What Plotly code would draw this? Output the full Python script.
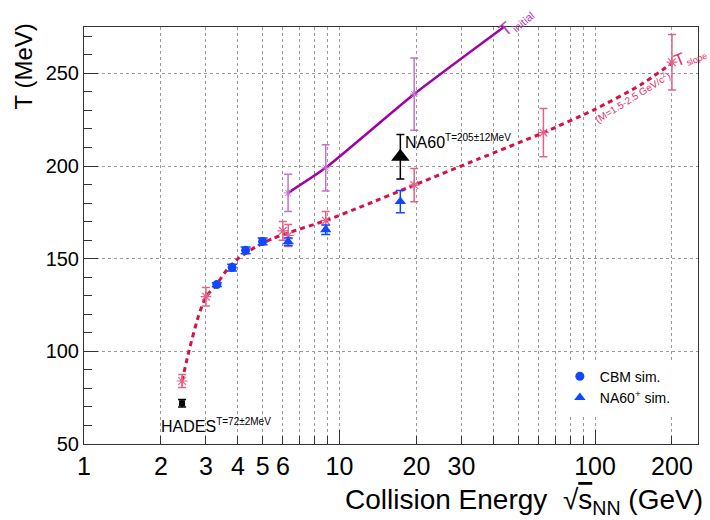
import plotly.graph_objects as go

# ---------------- data ----------------
# T_slope (dileptons, M=1.5-2.5 GeV/c^2) points
slope_E = [2.42, 3.0, 6.0, 6.3, 8.83, 19.6, 62.8, 200]
slope_T = [84, 129.5, 165, 162.5, 170.5, 189.7, 218, 256]
slope_err = [3.5, 5, 5, 6, 5, 9, 13, 15]

# T_slope fitted curve
fit_E = [2.42, 2.58, 2.8, 3.0, 3.3, 3.62, 4.02, 4.67, 5.51, 6.48, 8.8, 12.4,
         19.6, 35, 62.8, 98.6, 150, 201]
fit_T = [84, 100.7, 118.7, 129.4, 136, 143.9, 150.2, 156.1, 161, 164.5, 170.5,
         178.5, 189.7, 203.8, 218, 230.2, 243.6, 255.7]

# T_initial points and curve
init_E = [6.29, 8.83, 19.6]
init_T = [185.5, 199, 238.8]
init_err = [10, 12.5, 19.5]
initline_E = [6.29, 8.83, 19.6, 44.5]
initline_T = [185.5, 199, 238.8, 275.5]

# CBM simulation
cbm_E = [3.31, 3.8, 4.29, 5.0]
cbm_T = [136, 145.2, 154.5, 159.3]
cbm_err = [1.0, 1.8, 1.8, 1.8]

# NA60+ simulation
na60p_E = [6.3, 8.83, 17.3]
na60p_T = [159.1, 165.6, 180.8]
na60p_err = [2.0, 2.5, 6.0]

# measurements
na60_E = [17.3]
na60_T = [205]
na60_err = [12]
hades_E = [2.42]
hades_T = [72]
hades_err = [2]

x_tickvals = [1, 2, 3, 4, 5, 6, 10, 20, 30, 100, 200]
x_ticktext = ["1", "2", "3", "4", "5", "6", "10", "20", "30", "100", "200"]
x_minorvals = [7, 8, 9, 40, 50, 60, 70, 80, 90]
x_longticks = [10, 100]
y_tickvals = [50, 100, 150, 200, 250]

# ---------------- style ----------------
FONT = "Liberation Sans, Arial, Helvetica, sans-serif"
CRIMSON = "#d81048"
PINK = "#e0648a"
PURPLE = "#a000a8"
LILAC = "#c672c8"
BLUE = "#1048ff"
FRAME = "#333333"
GRID = "#9a9a9a"

fig = go.Figure()

# T_slope fit curve (dotted)
fig.add_trace(go.Scatter(x=fit_E, y=fit_T, mode="lines", showlegend=False,
                         line=dict(color=CRIMSON, width=3, dash="5px,4px", shape="spline", smoothing=0.6),
                         hoverinfo="skip"))
# T_slope points
fig.add_trace(go.Scatter(x=slope_E, y=slope_T, mode="markers", showlegend=False,
                         marker=dict(symbol="asterisk-open", size=9, color=PINK,
                                     line=dict(color=PINK, width=1.2)),
                         error_y=dict(type="data", array=slope_err, color=PINK, thickness=1.5, width=4)))
# T_initial curve
fig.add_trace(go.Scatter(x=initline_E, y=initline_T, mode="lines", showlegend=False,
                         line=dict(color=PURPLE, width=2.5, shape="spline", smoothing=0.5),
                         hoverinfo="skip"))
# T_initial points
fig.add_trace(go.Scatter(x=init_E, y=init_T, mode="markers", showlegend=False,
                         marker=dict(symbol="asterisk-open", size=7, color=LILAC,
                                     line=dict(color=LILAC, width=1)),
                         error_y=dict(type="data", array=init_err, color=LILAC, thickness=1.5, width=4)))
# CBM sim
fig.add_trace(go.Scatter(x=cbm_E, y=cbm_T, mode="markers", name="CBM sim.",
                         marker=dict(symbol="circle", size=9, color=BLUE),
                         error_y=dict(type="data", array=cbm_err, color=BLUE, thickness=1.5, width=5)))
# NA60+ sim
fig.add_trace(go.Scatter(x=na60p_E, y=na60p_T, mode="markers", name="NA60<sup>+</sup> sim.",
                         marker=dict(symbol="triangle-up", size=10, color=BLUE),
                         error_y=dict(type="data", array=na60p_err, color=BLUE, thickness=1.5, width=4.5)))
# NA60 measurement
fig.add_trace(go.Scatter(x=na60_E, y=na60_T, mode="markers", showlegend=False,
                         marker=dict(symbol="triangle-up", size=16, color="black"),
                         error_y=dict(type="data", array=na60_err, color="black", thickness=1.5, width=4)))
# HADES measurement
fig.add_trace(go.Scatter(x=hades_E, y=hades_T, mode="markers", showlegend=False,
                         marker=dict(symbol="square", size=6, color="black"),
                         error_y=dict(type="data", array=hades_err, color="black", thickness=1.5, width=4)))
# empty trace carrying the long-tick overlay axis
fig.add_trace(go.Scatter(x=[], y=[], xaxis="x2", showlegend=False, hoverinfo="skip"))

XRANGE = [0, 2.403]
fig.update_layout(
    width=710, height=520,
    margin=dict(l=84, r=12, t=27, b=76),
    paper_bgcolor="white", plot_bgcolor="white",
    font=dict(family=FONT, color="black"),
    xaxis=dict(type="log", range=XRANGE, tickmode="array", tickvals=x_tickvals, ticktext=x_ticktext,
               ticks="inside", ticklen=8, tickcolor=FRAME, tickfont=dict(size=25, family=FONT),
               showline=True, linecolor=FRAME, linewidth=1, mirror=True,
               showgrid=True, gridcolor=GRID, griddash="dot", gridwidth=1, zeroline=False,
               minor=dict(tickmode="array", tickvals=x_minorvals, ticks="inside", ticklen=8,
                          tickcolor=FRAME, showgrid=True, gridcolor=GRID, griddash="dot", gridwidth=1)),
    xaxis2=dict(type="log", range=XRANGE, overlaying="x", side="top", anchor="free", position=0,
                tickmode="array", tickvals=x_longticks, ticks="outside", ticklen=14, tickcolor=FRAME,
                showticklabels=False, showgrid=False, showline=False, zeroline=False),
    yaxis=dict(range=[50, 275], tickmode="array", tickvals=y_tickvals,
               ticks="inside", ticklen=14, tickcolor=FRAME, tickfont=dict(size=20, family=FONT),
               showline=True, linecolor=FRAME, linewidth=1, mirror=True,
               showgrid=True, gridcolor=GRID, griddash="dot", gridwidth=1, zeroline=False,
               minor=dict(dtick=10, ticks="inside", ticklen=8, tickcolor=FRAME, showgrid=False)),
    legend=dict(x=0.775, y=0.2, xanchor="left", yanchor="top", bgcolor="white",
                borderwidth=0, font=dict(size=14, family=FONT), tracegroupgap=2),
    showlegend=True,
)

annotations = [
    dict(text="T (MeV)", xref="paper", yref="paper", x=-0.098, y=0.905, textangle=-90,
         showarrow=False, font=dict(size=24), xanchor="center", yanchor="middle"),
    dict(text="Collision Energy  √<span style='text-decoration:overline'>s</span><sub>NN</sub> (GeV)",
         xref="paper", yref="paper", x=1.012, y=-0.137, showarrow=False, font=dict(size=28),
         xanchor="right", yanchor="middle"),
    dict(text="HADES<sup><span style='font-size:10px'>T=72±2MeV</span></sup>", xref="paper", yref="y",
         x=(159 - 84) / 614, y=60, showarrow=False, font=dict(size=16), xanchor="left", yanchor="middle"),
    dict(text="NA60<sup><span style='font-size:10px'>T=205±12MeV</span></sup>", xref="paper", yref="y",
         x=(403 - 84) / 614, y=213, showarrow=False, font=dict(size=16), xanchor="left", yanchor="middle"),
    dict(text="T<sub><span style='font-size:11px'>initial</span></sub>", xref="paper", yref="paper",
         x=0.703, y=1.012, textangle=-40, showarrow=False, font=dict(size=18, color="#b03cb8"),
         xanchor="center", yanchor="middle"),
    dict(text="T<sub><span style='font-size:9px'>slope</span></sub>", xref="paper", yref="paper",
         x=0.987, y=0.93, textangle=-22, showarrow=False, font=dict(size=17, color="#e0306a"),
         xanchor="center", yanchor="middle"),
    dict(text="(M=1.5-2.5 GeV/c<sup>2</sup>)", xref="paper", yref="paper", x=0.893, y=0.833, textangle=-32,
         showarrow=False, font=dict(size=10, color="#e0306a"), xanchor="center", yanchor="middle"),
]
fig.update_layout(annotations=annotations)

fig.write_html("out.html")
